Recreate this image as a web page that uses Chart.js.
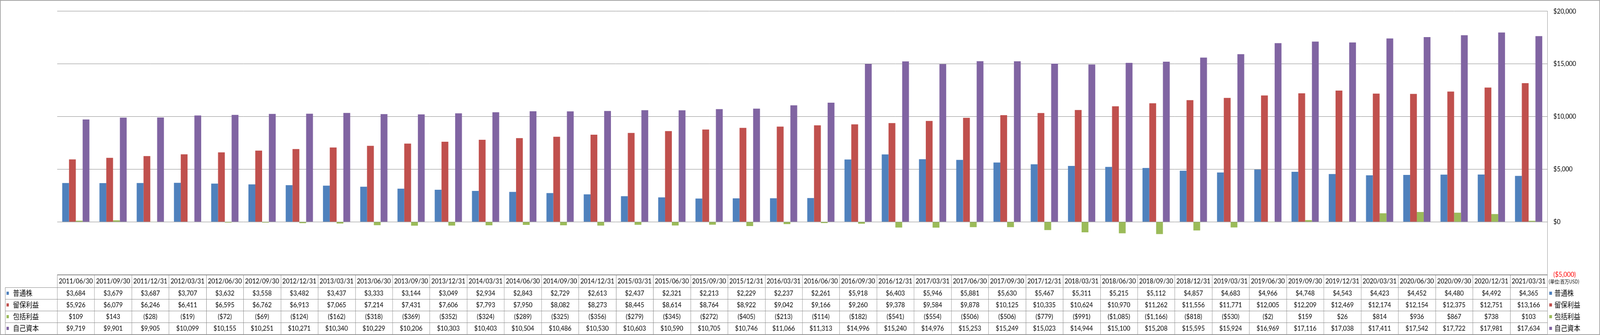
<!DOCTYPE html>
<html>
<head>
<meta charset="utf-8">
<script src="https://cdn.jsdelivr.net/npm/chart.js@4.4.1/dist/chart.umd.min.js"></script>
<style>
  html, body { margin: 0; padding: 0; background: #fff; overflow: hidden; }
  canvas { display: block; }
</style>
</head>
<body>
<!-- 描画は 4701x858 の座標で行い、表示はウィンドウ全体に合わせる -->
<canvas id="equityChart" width="4701" height="858" style="width:100vw;height:100vh"></canvas>
<script>
// 四半期末
const dates = [
  '2011/06/30', '2011/09/30', '2011/12/31', '2012/03/31', '2012/06/30', '2012/09/30', '2012/12/31',
  '2013/03/31', '2013/06/30', '2013/09/30', '2013/12/31', '2014/03/31', '2014/06/30', '2014/09/30',
  '2014/12/31', '2015/03/31', '2015/06/30', '2015/09/30', '2015/12/31', '2016/03/31', '2016/06/30',
  '2016/09/30', '2016/12/31', '2017/03/31', '2017/06/30', '2017/09/30', '2017/12/31', '2018/03/31',
  '2018/06/30', '2018/09/30', '2018/12/31', '2019/03/31', '2019/06/30', '2019/09/30', '2019/12/31',
  '2020/03/31', '2020/06/30', '2020/09/30', '2020/12/31', '2021/03/31'
];

// 単位: 百万USD
const commonStock = [
  3684, 3679, 3687, 3707, 3632, 3558, 3482, 3437, 3333, 3144, 3049, 2934, 2843,
  2729, 2613, 2437, 2321, 2213, 2229, 2237, 2261, 5918, 6403, 5946, 5881, 5630, 5467,
  5311, 5215, 5112, 4857, 4683, 4966, 4748, 4543, 4423, 4452, 4480, 4492, 4365
];
const retainedEarnings = [
  5926, 6079, 6246, 6411, 6595, 6762, 6913, 7065, 7214, 7431, 7606, 7793, 7950,
  8082, 8273, 8445, 8614, 8764, 8922, 9042, 9166, 9260, 9378, 9584, 9878, 10125, 10335,
  10624, 10970, 11262, 11556, 11771, 12005, 12209, 12469, 12174, 12154, 12375, 12751, 13166
];
const comprehensiveIncome = [
  109, 143, -28, -19, -72, -69, -124, -162, -318, -369, -352, -324, -289,
  -325, -356, -279, -345, -272, -405, -213, -114, -182, -541, -554, -506, -506, -779,
  -991, -1085, -1166, -818, -530, -2, 159, 26, 814, 936, 867, 738, 103
];
const totalEquity = [
  9719, 9901, 9905, 10099, 10155, 10251, 10271, 10340, 10229, 10206, 10303, 10403, 10504,
  10486, 10530, 10603, 10590, 10705, 10746, 11066, 11313, 14996, 15240, 14976, 15253, 15249, 15023,
  14944, 15100, 15208, 15595, 15924, 16969, 17116, 17038, 17411, 17542, 17722, 17981, 17634
];

const seriesNames = ['普通株', '留保利益', '包括利益', '自己資本'];
const seriesColors = ['#4F81BD', '#C0504D', '#9BBB59', '#8064A2'];
const seriesValues = [commonStock, retainedEarnings, comprehensiveIncome, totalEquity];

const yMin = -5000, yMax = 20000, yStep = 5000;
const unitLabel = '(単位:百万USD)';

const LINE = '#868686';
const NUM_FONT = "'Lato', 'Liberation Sans', sans-serif";
const CJK_FONT = "'Noto Sans CJK JP', 'Noto Sans CJK SC', sans-serif";

Chart.defaults.font.family = NUM_FONT;
Chart.defaults.font.size = 18;
Chart.defaults.color = '#000';

function money(v) {
  const s = '$' + Math.abs(v).toLocaleString('en-US');
  return v < 0 ? '(' + s + ')' : s;
}

// データテーブル（カテゴリ軸の代わり）
const dataTablePlugin = {
  id: 'dataTable',
  afterDraw(chart) {
    const ctx = chart.ctx;
    const x = chart.scales.x;
    const area = chart.chartArea;
    const colW = x.getPixelForValue(1) - x.getPixelForValue(0);
    const tableLeft = x.getPixelForValue(0) - colW / 2;
    const tableRight = x.getPixelForValue(dates.length - 1) + colW / 2;
    const headTop = area.bottom + 1;
    const headBottom = headTop + 32;
    const rowH = 30;
    const labelLeft = 15;

    ctx.save();
    ctx.strokeStyle = LINE;
    ctx.lineWidth = 1;

    // 横線
    ctx.beginPath();
    ctx.moveTo(tableLeft, headTop + 0.5);
    ctx.lineTo(tableRight, headTop + 0.5);
    for (let r = 0; r <= seriesNames.length; r++) {
      const yy = Math.round(headBottom + r * rowH) + 0.5;
      ctx.moveTo(labelLeft, yy);
      ctx.lineTo(tableRight, yy);
    }
    // 縦線
    for (let i = 0; i <= dates.length; i++) {
      const xx = Math.round(tableLeft + i * colW) + 0.5;
      ctx.moveTo(xx, headTop);
      ctx.lineTo(xx, headBottom + seriesNames.length * rowH);
    }
    ctx.moveTo(labelLeft + 0.5, headBottom);
    ctx.lineTo(labelLeft + 0.5, headBottom + seriesNames.length * rowH);
    ctx.stroke();

    // 日付ヘッダー
    ctx.fillStyle = '#000';
    ctx.textAlign = 'center';
    ctx.textBaseline = 'middle';
    ctx.font = '18px ' + NUM_FONT;
    dates.forEach((d, i) => {
      ctx.fillText(d, x.getPixelForValue(i), (headTop + headBottom) / 2);
    });

    // 値
    seriesValues.forEach((vals, r) => {
      const cy = headBottom + r * rowH + rowH / 2;
      vals.forEach((v, i) => {
        ctx.fillText(money(v), x.getPixelForValue(i), cy);
      });
    });

    // 凡例キー（左右）
    ctx.textAlign = 'left';
    ctx.font = '19px ' + CJK_FONT;
    seriesNames.forEach((name, r) => {
      const cy = headBottom + r * rowH + rowH / 2;
      ctx.fillStyle = seriesColors[r];
      ctx.fillRect(19, cy - 4, 7, 8);
      ctx.fillRect(tableRight + 6, cy - 4, 8, 8);
      ctx.fillStyle = '#000';
      ctx.fillText(name, 38, cy);
      ctx.fillText(name, tableRight + 21, cy);
    });

    ctx.font = '13px ' + CJK_FONT;
    ctx.fillText(unitLabel, tableRight + 4, headTop + 17);

    // 外枠
    ctx.strokeStyle = LINE;
    ctx.lineWidth = 1.5;
    ctx.strokeRect(1, 1, chart.width - 2, chart.height - 2);
    ctx.restore();
  }
};

new Chart(document.getElementById('equityChart'), {
  type: 'bar',
  data: {
    labels: dates,
    datasets: seriesNames.map((name, i) => ({
      label: name,
      data: seriesValues[i],
      backgroundColor: seriesColors[i],
      borderWidth: 0,
      barPercentage: 1,
      categoryPercentage: 0.731
    }))
  },
  options: {
    responsive: false,
    animation: false,
    devicePixelRatio: 1,
    layout: { padding: { left: 168, right: 0, top: 13, bottom: 155 } },
    plugins: {
      legend: { display: false },
      tooltip: { enabled: false }
    },
    scales: {
      x: { display: false },
      y: {
        position: 'right',
        min: yMin,
        max: yMax,
        ticks: {
          stepSize: yStep,
          padding: 18,
          font: { size: 18 },
          color: (c) => (c.tick && c.tick.value < 0 ? '#FF0000' : '#000'),
          callback: (v) => money(v)
        },
        grid: { color: LINE, lineWidth: 1, drawTicks: false },
        border: { display: true, color: LINE, width: 1 },
        afterFit(scale) { scale.width = 155; }
      }
    }
  },
  plugins: [dataTablePlugin]
});
</script>
</body>
</html>
